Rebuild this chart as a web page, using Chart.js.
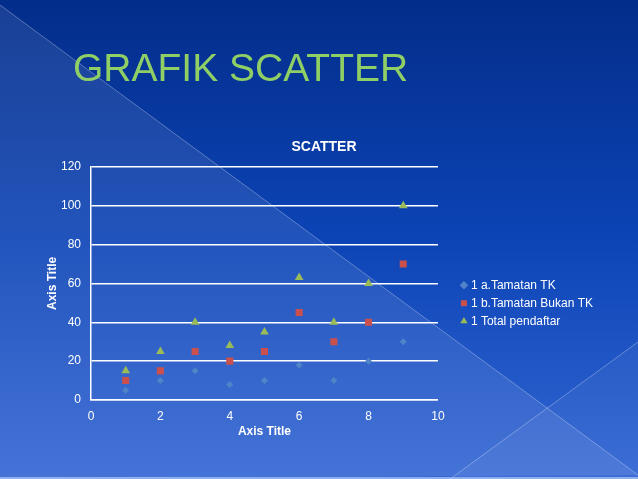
<!DOCTYPE html>
<html>
<head>
<meta charset="utf-8">
<script src="https://cdn.jsdelivr.net/npm/chart.js@4/dist/chart.umd.min.js"></script>
<style>
  html, body { margin: 0; padding: 0; width: 638px; height: 479px; overflow: hidden; background: #0a3494; }
  #wrap { position: relative; width: 638px; height: 479px; }
  #grafico { position: absolute; left: 0; top: 0; }
  #judul {
    position: absolute; left: 73px; top: 45px; margin: 0;
    font-family: "Liberation Sans", Arial, sans-serif; font-weight: normal;
    font-size: 39px; line-height: 46px; color: #8fcf66; white-space: nowrap;
  }
</style>
</head>
<body>
<div id="wrap">
  <canvas id="grafico" width="638" height="479"></canvas>
  <h1 id="judul">GRAFIK SCATTER</h1>
</div>
<script>
// data
const nilaiX = [1, 2, 3, 4, 5, 6, 7, 8, 9];
const tamatanTK = [5, 10, 15, 8, 10, 18, 10, 20, 30];
const bukanTK = [10, 15, 25, 20, 25, 45, 30, 40, 70];
const totalDaftar = [15, 25, 40, 28, 35, 63, 40, 60, 100];
const namaSeri = ['1 a.Tamatan TK', '1 b.Tamatan Bukan TK', '1 Total pendaftar'];
const judulGrafik = 'SCATTER';
const judulSumbu = 'Axis Title';

const titik = arr => arr.map((y, i) => ({ x: nilaiX[i], y }));

// latar belakang slide
const latarSlide = {
  id: 'latarSlide',
  beforeDraw(chart) {
    const c = chart.ctx;
    const w = chart.width, h = chart.height;
    c.save();
    const g = c.createLinearGradient(0, 0, 0, h);
    g.addColorStop(0, '#032d8a');
    g.addColorStop(0.5, '#0c44b6');
    g.addColorStop(1, '#3366d4');
    c.fillStyle = g;
    c.fillRect(0, 0, w, h);
    // segitiga terang kiri bawah
    c.fillStyle = 'rgba(255,255,255,0.09)';
    c.beginPath();
    c.moveTo(0, 5); c.lineTo(w, 475); c.lineTo(0, h); c.closePath();
    c.fill();
    c.fillStyle = 'rgba(255,255,255,0.05)';
    c.beginPath();
    c.moveTo(450, h); c.lineTo(w, 342); c.lineTo(w, h); c.closePath();
    c.fill();
    c.strokeStyle = 'rgba(255,255,255,0.3)';
    c.lineWidth = 1;
    c.beginPath();
    c.moveTo(0, 5); c.lineTo(w, 475);
    c.moveTo(450, h); c.lineTo(w, 342);
    c.stroke();
    c.fillStyle = 'rgba(200,220,255,0.6)';
    c.fillRect(0, h - 2, w, 2);
    c.restore();
  }
};

const fontDasar = { family: '"Liberation Sans", Arial, sans-serif', size: 12 };

new Chart(document.getElementById('grafico').getContext('2d'), {
  type: 'scatter',
  data: {
    datasets: [
      {
        label: namaSeri[0],
        data: titik(tamatanTK),
        pointStyle: 'rectRot',
        pointRadius: 3.5,
        backgroundColor: '#5083c8',
        borderColor: '#5083c8',
        borderWidth: 0
      },
      {
        label: namaSeri[1],
        data: titik(bukanTK),
        pointStyle: 'rect',
        pointRadius: 5,
        backgroundColor: '#c9504d',
        borderColor: '#c9504d',
        borderWidth: 0
      },
      {
        label: namaSeri[2],
        data: titik(totalDaftar),
        pointStyle: 'triangle',
        pointRadius: 5,
        backgroundColor: '#9bbb59',
        borderColor: '#9bbb59',
        borderWidth: 0
      }
    ]
  },
  options: {
    responsive: false,
    animation: false,
    layout: { padding: { left: 45, right: 35, top: 139, bottom: 40 } },
    plugins: {
      tooltip: { enabled: false },
      title: {
        display: true,
        text: judulGrafik,
        color: '#ffffff',
        font: { ...fontDasar, size: 14, weight: 'bold' },
        padding: { top: 0, bottom: 11 },
        align: 'center'
      },
      legend: {
        position: 'right',
        align: 'center',
        maxWidth: 200,
        title: { display: true, text: ' ', font: fontDasar, padding: { top: 14, bottom: 0 } },
        labels: {
          color: '#ffffff',
          font: fontDasar,
          usePointStyle: true,
          boxWidth: 2,
          boxHeight: 6,
          padding: 6
        }
      }
    },
    scales: {
      x: {
        type: 'linear',
        min: 0,
        max: 10,
        ticks: { stepSize: 2, color: '#ffffff', font: fontDasar, padding: 9 },
        grid: { display: false, drawTicks: false },
        border: { display: true, color: '#ffffff', width: 1.5 },
        title: { display: true, text: judulSumbu, color: '#ffffff', font: { ...fontDasar, weight: 'bold' }, padding: 0 },
        afterFit(s) { s.height = 39; }
      },
      y: {
        min: 0,
        max: 120,
        ticks: { stepSize: 20, color: '#ffffff', font: fontDasar, padding: 10 },
        grid: { color: '#ffffff', lineWidth: 1.5, drawTicks: false },
        border: { display: true, color: '#ffffff', width: 1.5 },
        title: { display: true, text: judulSumbu, color: '#ffffff', font: { ...fontDasar, weight: 'bold' }, padding: 0 },
        afterFit(s) { s.width = 46; }
      },
      // sumbu kosong di kanan, hanya memberi jarak antara plot dan legenda
      jarak: {
        type: 'linear',
        position: 'right',
        display: true,
        ticks: { display: false },
        grid: { display: false, drawTicks: false },
        border: { display: false },
        afterFit(s) { s.width = 19; }
      }
    }
  },
  plugins: [latarSlide]
});
</script>
</body>
</html>
